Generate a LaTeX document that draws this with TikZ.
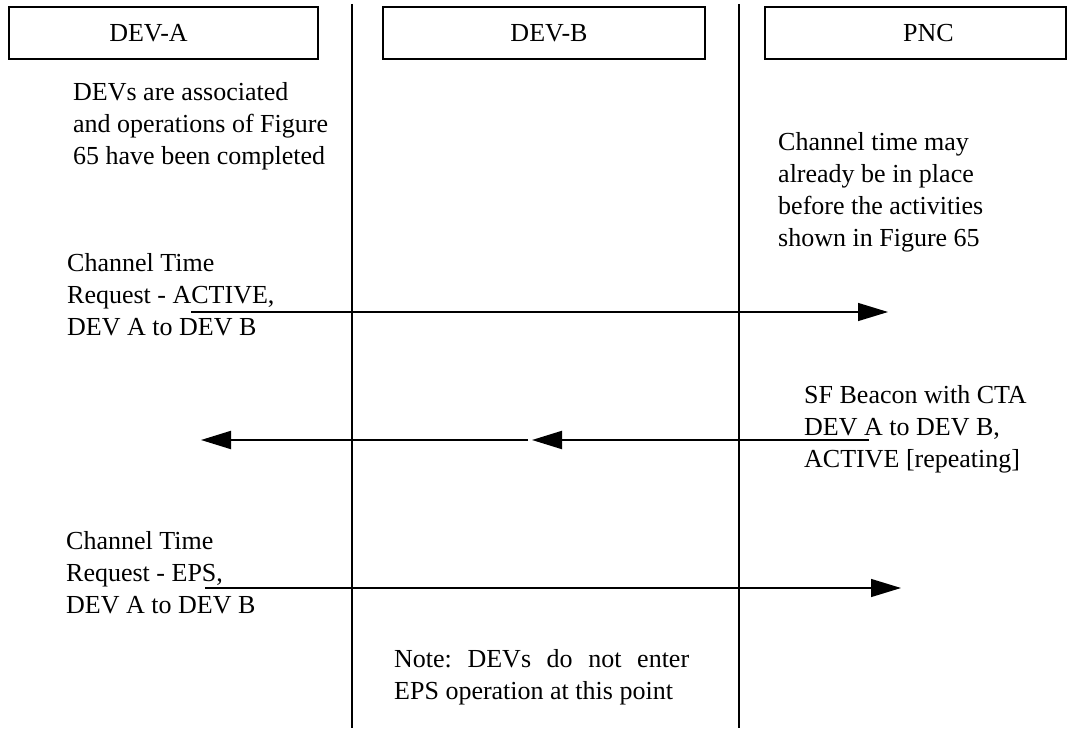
\documentclass[tikz,border=0pt]{standalone}
\usepackage{fontspec}
\setmainfont{Liberation Serif}
\usetikzlibrary{arrows.meta}

\begin{document}
\begin{tikzpicture}[x=1pt, y=-1pt, font=\fontsize{26}{32}\selectfont,
                box/.style = {draw, line width=2pt, minimum height=52pt, inner sep=0pt},
                txt/.style = {align=left, anchor=north west, inner sep=0pt},
                life/.style = {line width=1.2pt},
                msg/.style = {line width=1.3pt, -{Triangle[length=30pt, width=18pt]}}]
                \useasboundingbox (0,0) rectangle (1074,735);

                \node[box, minimum width=309pt, label={[xshift=-15pt]center:DEV-A}] at (163.5,33) (devA) {};
                \node[box, minimum width=322pt, label={[xshift=5pt]center:DEV-B}] at (544,33) (devB) {};
                \node[box, minimum width=301pt, label={[xshift=13pt]center:PNC}] at (915.5,33) (pnc) {};

                \coordinate (sep1top) at (352,4);
                \coordinate (sep1bot) at (352,728);
                \coordinate (sep2top) at (739,4);
                \coordinate (sep2bot) at (739,728);
                \draw[life] (sep1top) -- (sep1bot);
                \draw[life] (sep2top) -- (sep2bot);

                \node[txt] at (73,82.2) (assoc) {DEVs are associated\\and operations of Figure\\65 have been completed};
                \node[txt] at (778,132.2) (already) {Channel time may\\already be in place\\before the activities\\shown in Figure 65};
                \node[txt] at (67,253.2) (reqActive) {Channel Time\\Request - ACTIVE,\\DEV A to DEV B};
                \node[txt] at (804,385.2) (beacon) {SF Beacon with CTA\\DEV A to DEV B,\\ACTIVE [repeating]};
                \node[txt] at (66,531.2) (reqEps) {Channel Time\\Request - EPS,\\DEV A to DEV B};
                \node[txt, text width=295pt, align=justify] at (394,649.2) (note) {Note:\ DEVs do not enter EPS operation at this point};

                \coordinate (reqActiveS) at (191,312);
                \coordinate (reqActiveE) at (888,312);
                \coordinate (beaconS) at (869,440);
                \coordinate (beaconB) at (532,440);
                \coordinate (beaconB2) at (528,440);
                \coordinate (beaconA) at (201,440);
                \coordinate (reqEpsS) at (205,588);
                \coordinate (reqEpsE) at (901,588);

                \draw[msg] (reqActiveS) -- (reqActiveE);
                \draw[msg, line width=2pt] (beaconS) -- (beaconB);
                \draw[msg, line width=2pt] (beaconB2) -- (beaconA);
                \draw[msg] (reqEpsS) -- (reqEpsE);
            \end{tikzpicture}
\end{document}
